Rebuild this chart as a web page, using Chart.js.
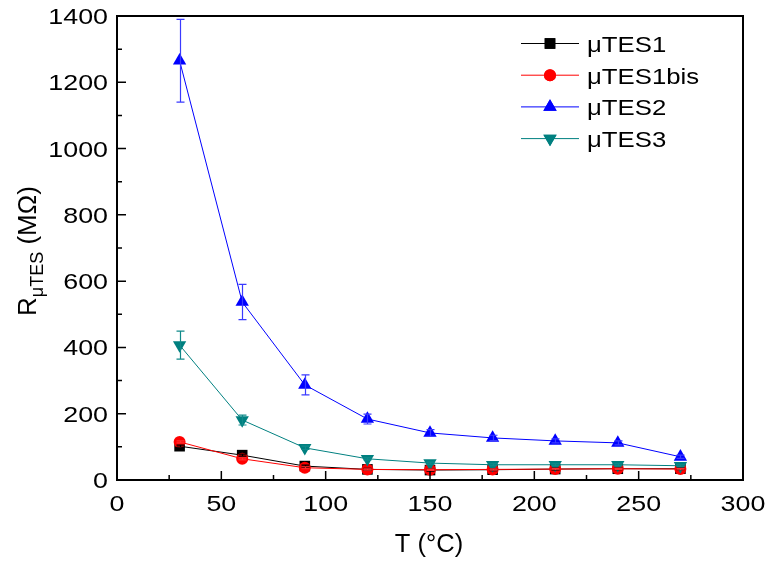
<!DOCTYPE html>
<html lang="en">
<head>
    <meta charset="UTF-8">
    <title>R vs T</title>
    <style>
        body { margin: 0; background: white; }
    </style>
    <script src="https://cdn.jsdelivr.net/npm/chart.js"></script>
</head>
<body>
<canvas id="chart" width="767" height="563"></canvas>
<script>
    // temperatures (°C)
    const temps = [30, 60, 90, 120, 150, 180, 210, 240, 270];

    // resistances (MΩ) and error bars
    const tes1 = [102, 75, 42, 32, 30, 31, 33, 34, 34];
    const tes1Err = [3, 3, 3, 3, 3, 3, 3, 3, 3];
    const tes1bis = [115, 64, 37, 32, 31, 32, 33, 34, 33];
    const tes1bisErr = [3, 3, 3, 2, 2, 2, 2, 2, 2];
    const tes2 = [1265, 537, 287, 184, 142, 127, 118, 112, 70];
    const tes2Err = [125, 53, 30, 15, 10, 8, 6, 6, 5];
    const tes3 = [407, 181, 97, 64, 51, 46, 46, 46, 43];
    const tes3Err = [42, 15, 5, 3, 3, 3, 3, 3, 3];

    const xTicks = [0, 50, 100, 150, 200, 250, 300];
    const yTicks = [0, 200, 400, 600, 800, 1000, 1200, 1400];

    const FONT = '"Liberation Sans", Arial, sans-serif';

    function pts(vals, errs) {
        return temps.map((t, i) => ({ x: t, y: vals[i], err: errs[i] }));
    }

    const series = [
        { label: 'μTES1', data: pts(tes1, tes1Err), color: '#000000', err: '#000000', style: 'rect', radius: 7.5, rotation: 0, order: 4 },
        { label: 'μTES1bis', data: pts(tes1bis, tes1bisErr), color: '#ff0000', err: '#ff3030', style: 'circle', radius: 6, rotation: 0, order: 3 },
        { label: 'μTES2', data: pts(tes2, tes2Err), color: '#0000ff', err: '#3a3aff', style: 'triangle', radius: 7.7, rotation: 0, order: 2 },
        { label: 'μTES3', data: pts(tes3, tes3Err), color: '#008080', err: '#108a8a', style: 'triangle', radius: 7.7, rotation: 180, order: 1 }
    ];

    // text a bit wider than the font, like the original export
    function wideText(ctx, text, x, y, align, sx) {
        ctx.save();
        ctx.translate(x, y);
        ctx.scale(sx, 1);
        ctx.textAlign = align;
        ctx.fillText(text, 0, 0);
        ctx.restore();
    }

    // error bars, frame with inward ticks, labels, legend
    const extras = {
        id: 'extras',
        afterDatasetsDraw(chart) {
            const ctx = chart.ctx;
            const xs = chart.scales.x, ys = chart.scales.y;
            const a = chart.chartArea;
            ctx.save();
            // error bars
            chart.data.datasets.forEach(ds => {
                ctx.strokeStyle = ds.errColor;
                ctx.lineWidth = 1.2;
                ds.data.forEach(p => {
                    const px = Math.round(xs.getPixelForValue(p.x)) + 0.5;
                    const top = ys.getPixelForValue(p.y + p.err);
                    const bot = ys.getPixelForValue(p.y - p.err);
                    ctx.beginPath();
                    ctx.moveTo(px, top); ctx.lineTo(px, bot);
                    ctx.moveTo(px - 4, top); ctx.lineTo(px + 4, top);
                    ctx.moveTo(px - 4, bot); ctx.lineTo(px + 4, bot);
                    ctx.stroke();
                });
            });
            // frame
            ctx.strokeStyle = '#000';
            ctx.lineWidth = 2;
            ctx.strokeRect(a.left, a.top, a.right - a.left, a.bottom - a.top);
            // inward ticks
            ctx.lineWidth = 1.5;
            ctx.beginPath();
            for (let v = 0; v <= 300; v += 25) {
                const px = xs.getPixelForValue(v);
                const len = v % 50 === 0 ? 9 : 5;
                ctx.moveTo(px, a.bottom); ctx.lineTo(px, a.bottom - len);
            }
            for (let v = 0; v <= 1400; v += 100) {
                const py = ys.getPixelForValue(v);
                const len = v % 200 === 0 ? 9 : 5;
                ctx.moveTo(a.left, py); ctx.lineTo(a.left + len, py);
            }
            ctx.stroke();

            // tick labels
            ctx.fillStyle = '#000';
            ctx.textBaseline = 'alphabetic';
            ctx.font = '22px ' + FONT;
            xTicks.forEach(v => wideText(ctx, String(v), xs.getPixelForValue(v), 511, 'center', 1.22));
            yTicks.forEach(v => wideText(ctx, String(v), 108, ys.getPixelForValue(v) + 8, 'right', 1.22));

            // axis titles
            ctx.font = '25.5px ' + FONT;
            ctx.textAlign = 'center';
            ctx.fillText('T (°C)', (a.left + a.right) / 2 - 1, 552);

            ctx.save();
            ctx.translate(36, 316);
            ctx.rotate(-Math.PI / 2);
            ctx.textAlign = 'left';
            let cx = 0;
            ctx.font = '26px ' + FONT;
            ctx.fillText('R', cx, 0);
            cx += ctx.measureText('R').width;
            ctx.font = '18px ' + FONT;
            ctx.fillText('μTES', cx, 7);
            cx += ctx.measureText('μTES').width;
            ctx.font = '26px ' + FONT;
            ctx.fillText(' (MΩ)', cx, 0);
            ctx.restore();

            // legend
            ctx.font = '22px ' + FONT;
            chart.data.datasets.forEach((ds, i) => {
                const base = 52 + i * 31.7;
                const y = base - 8.5;
                ctx.strokeStyle = ds.borderColor;
                ctx.lineWidth = 1;
                ctx.beginPath();
                ctx.moveTo(521, y); ctx.lineTo(579, y);
                ctx.stroke();
                ctx.fillStyle = ds.backgroundColor;
                Chart.helpers.drawPoint(ctx, {
                    pointStyle: ds.pointStyle, radius: ds.pointRadius,
                    rotation: ds.pointRotation, borderWidth: 0
                }, 550, y);
                ctx.fill();
                ctx.fillStyle = '#000';
                wideText(ctx, ds.label, 587, base, 'left', 1.17);
            });
            ctx.restore();
        }
    };

    new Chart(document.getElementById('chart'), {
        type: 'line',
        data: {
            datasets: series.map(s => ({
                label: s.label,
                data: s.data,
                borderColor: s.color,
                backgroundColor: s.color,
                errColor: s.err,
                borderWidth: 1,
                pointStyle: s.style,
                pointRadius: s.radius,
                pointHoverRadius: s.radius,
                pointRotation: s.rotation,
                pointBorderWidth: 0,
                tension: 0,
                order: s.order
            }))
        },
        options: {
            responsive: false,
            animation: false,
            layout: { padding: { left: 117, right: 24, top: 16, bottom: 83 } },
            plugins: { legend: { display: false }, tooltip: { enabled: false } },
            scales: {
                x: { type: 'linear', min: 0, max: 300, display: false },
                y: { type: 'linear', min: 0, max: 1400, display: false }
            }
        },
        plugins: [extras]
    });
</script>
</body>
</html>
